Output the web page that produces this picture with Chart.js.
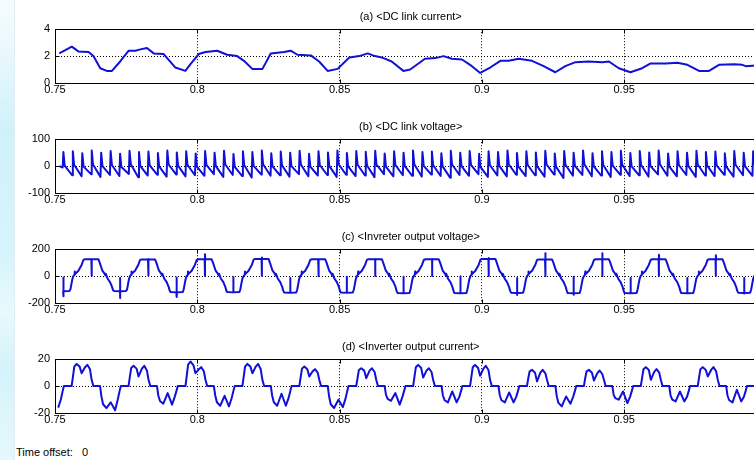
<!DOCTYPE html>
<html>
<head>
<meta charset="utf-8">
<script src="https://cdn.jsdelivr.net/npm/chart.js@4.4.1/dist/chart.umd.min.js"></script>
<style>
  html, body { margin: 0; padding: 0; width: 754px; height: 460px; overflow: hidden; background: #fff; }
  #strip {
    position: absolute; left: 0; top: 0; width: 14px; height: 460px;
    background: linear-gradient(to bottom, #f6fcfe 0%, #e8f8fc 12%, #cff2fa 28%, #d6f4fb 55%, #e9f9fd 68%, #d3f3fa 80%, #e6f8fc 100%);
    border-right: 1px solid #e2edf1;
  }
  .scope { position: absolute; left: 0; width: 780px; height: 110px; }
  .scope canvas { display: block; }
  #offset { position: absolute; left: 16px; top: 446px; font: 11px "Liberation Sans", Arial, sans-serif; color: #000; white-space: pre; }
</style>
</head>
<body>
<div id="strip"></div>
<div class="scope" style="top:0px"><canvas id="scope-a" width="780" height="110"></canvas></div>
<div class="scope" style="top:110px"><canvas id="scope-b" width="780" height="110"></canvas></div>
<div class="scope" style="top:220px"><canvas id="scope-c" width="780" height="110"></canvas></div>
<div class="scope" style="top:330px"><canvas id="scope-d" width="780" height="110"></canvas></div>
<div id="offset">Time offset:   0</div>

<script>
// ---- shared axis data ----
const xTicks = [0.75, 0.8, 0.85, 0.9, 0.95, 1.0];
const TRACE = '#1010d6';

// ---- (a) DC link current ----
const aTicks = [0, 2, 4];
const aTime = [0.7515,0.7559,0.7582,0.7618,0.7635,0.7659,0.7682,0.7700,0.7729,0.7759,
  0.7782,0.7800,0.7823,0.7847,0.7882,0.7923,0.7958,0.7976,0.8005,0.8029,
  0.8070,0.8105,0.8140,0.8164,0.8193,0.8229,0.8258,0.8305,0.8328,0.8352,
  0.8399,0.8428,0.8458,0.8493,0.8534,0.8569,0.8599,
  0.8624,0.8648,0.8683,0.8724,0.8748,0.8800,0.8836,0.8865,0.8894,0.8930,
  0.8965,0.8994,0.9029,0.9065,0.9094,0.9129,0.9176,0.9217,0.9258,0.9293,
  0.9329,0.9376,0.9423,0.9446,0.9481,0.9522,0.9563,0.9593,0.9646,0.9687,
  0.9722,0.9763,0.9798,0.9833,0.9886,0.9915,0.9927,0.9962];
const aValue = [2.2,2.7,2.35,2.3,2.0,1.1,0.9,0.9,1.6,2.4,
  2.4,2.5,2.6,2.2,2.15,1.15,0.9,1.4,2.15,2.3,
  2.4,2.1,2.0,1.65,1.05,1.05,2.2,2.3,2.4,2.1,
  2.05,1.6,0.9,1.05,1.9,2.0,2.2,
  2.0,1.9,1.6,0.9,1.0,1.8,1.85,2.0,1.8,1.75,
  1.25,0.75,1.15,1.65,1.65,1.8,1.65,1.25,0.8,1.25,
  1.55,1.6,1.55,1.6,1.1,0.8,1.1,1.45,1.45,1.5,
  1.35,0.9,0.9,1.35,1.4,1.35,1.25,1.3];

// ---- (b) DC link voltage: one spike per ripple cycle ----
const bTicks = [-100, 0, 100];
const bFirstSpike = 0.7528;
const bPeriod = 0.00332;
const bPeak = [52,55,48,58,50,56,46,57,52,54,49,58,51,55,47,
  56,50,57,45,55,52,58,48,54,50,57,46,55,51,58,
  49,56,53,57,47,55,50,58,52,54,48,57,50,56,46,
  55,52,58,49,55,51,57,47,56,50,58,48,55,52,57,
  49,56,51,58,47,55,50,57,52,54,48,56,50,55];
const bTrough = [-5,-34,-38,-30,-40,-33,-37,-29,-41,-35,-32,-39,-31,-38,-34,
  -36,-30,-40,-33,-37,-42,-31,-36,-34,-39,-30,-38,-35,-33,-40,
  -32,-37,-35,-41,-30,-38,-34,-36,-39,-31,-37,-43,-33,-36,-30,
  -40,-35,-38,-32,-37,-34,-39,-31,-44,-36,-33,-38,-35,-40,-32,
  -37,-34,-39,-31,-36,-38,-33,-40,-35,-37,-32,-39,-34,-36];
const bKnee = [2,5,-2,6,0,4,-3,7,1,3,-1,6,2,4,-2,
  5,0,6,-3,4,1,7,-1,3,0,6,-2,4,1,7,
  -1,5,2,6,-2,4,0,7,1,3,-1,6,0,5,-3,
  4,1,7,-1,4,0,6,-2,5,1,7,-1,4,2,6,
  -1,5,0,7,-2,4,1,6,2,3,-1,5,0,4];

// ---- (c) inverter output voltage: per-cycle rows at fixed phase offsets ----
const cTicks = [-200, 0, 200];
const cCenter = [0.7430,0.7629,0.7828,0.8027,0.8227,0.8426,0.8625,0.8825,0.9024,0.9223,0.9423,0.9622,0.9822,1.0021];
const cPhase = [-0.00644,-0.00609,-0.00597,-0.00586,-0.00468,-0.00351,-0.00293,-0.00234,-0.00012,0,0,0,0.00012,
  0.00234,0.00281,0.00375,0.00445,0.00480,0.00492,
  0.00562,0.00644,0.00714,0.00750,0.00785,0.00984,0.00995,0.00995,0.00995,0.01007,
  0.01206,0.01241,0.01276,0.01312];
const cRows = [
  [0,10,35,15,40,85,120,125,125,125,0,125,125,125,100,40,20,5,18,-20,-45,-80,-105,-111,-113,-113,-10,-150,-113,-111,-100,-60,-20],
  [0,10,35,15,40,85,120,126,126,126,0,126,126,126,100,40,20,5,18,-20,-45,-80,-105,-110,-112,-112,-15,-163,-112,-110,-100,-60,-20],
  [0,10,35,15,40,85,120,124,124,124,5,128,124,124,100,40,20,5,18,-20,-45,-80,-108,-119,-121,-121,-10,-155,-121,-119,-100,-60,-20],
  [0,10,35,15,40,85,120,125,125,125,0,163,125,125,100,40,20,5,18,-20,-45,-80,-108,-119,-121,-121,-8,-121,-121,-119,-100,-60,-20],
  [0,10,35,15,40,85,122,128,128,128,2,138,128,128,100,40,20,5,18,-20,-45,-80,-108,-122,-124,-124,-15,-124,-124,-122,-100,-60,-20],
  [0,10,35,15,40,85,120,125,125,125,0,125,125,125,100,40,20,5,18,-20,-45,-80,-108,-122,-124,-124,-5,-124,-124,-122,-100,-60,-20],
  [0,10,35,15,40,85,120,126,126,126,0,126,126,126,100,40,20,5,18,-20,-45,-80,-108,-125,-127,-127,-5,-127,-127,-125,-100,-60,-20],
  [0,10,35,15,40,85,120,125,125,125,0,128,125,125,100,40,20,5,18,-20,-45,-80,-108,-126,-128,-128,-2,-128,-128,-126,-100,-60,-20],
  [0,10,35,15,40,85,122,128,128,128,0,135,128,128,100,40,20,5,18,-20,-45,-80,-108,-123,-125,-125,-15,-140,-125,-123,-100,-60,-20],
  [0,10,35,15,40,85,120,124,124,124,0,170,124,124,100,40,20,5,18,-20,-45,-80,-108,-126,-128,-128,-5,-138,-128,-126,-100,-60,-20],
  [0,10,35,15,40,85,120,125,125,125,0,170,125,125,100,40,20,5,18,-20,-45,-80,-108,-126,-128,-128,-15,-128,-128,-126,-100,-60,-20],
  [0,10,35,15,40,85,120,125,125,125,0,158,125,125,100,40,20,5,18,-20,-45,-80,-108,-126,-128,-128,-15,-128,-128,-126,-100,-60,-20],
  [0,10,35,15,40,85,120,125,125,125,0,155,125,125,100,40,20,5,18,-20,-45,-80,-108,-123,-125,-125,-15,-130,-125,-123,-100,-60,-20],
  [0,10,35,15,40,85,120,125,125,125,0,125,125,125,100,40,20,5,18,-20,-45,-80,-108,-123,-125,-125,-10,-125,-125,-123,-100,-60,-20]
];

// ---- (d) inverter output current ----
const dTicks = [-20, 0, 20];
const dCenter = [0.7396,0.7596,0.7796,0.7996,0.8196,0.8396,0.8596,0.8796,0.8996,0.9196,0.9396,0.9596,0.9796,0.9996];
const dPhase = [-0.00646,-0.00376,-0.00329,-0.00282,-0.00200,-0.00094,-0.00024,0.00094,0.00176,0.00270,
  0.00329,0.00388,0.00623,0.00670,0.00729,0.00846,0.00999,0.01152,0.01246,0.01316];
const dRows = [
  [0,0,7,14,16,14,9,14,16,12,4.5,0,0,-7,-13,-16,-12,-16,-10,-3],
  [0,0,7,14.5,16.5,14.5,9.6,14,15.8,12.5,4.5,0,0,-7.5,-13.5,-16.3,-12.1,-18,-10,-3],
  [0,0,7,13.5,15.1,13,7.2,13,15.1,11.5,4.5,0,0,-7,-11,-13.1,-5.2,-13.8,-8,-3],
  [0,0,8,16,18.3,15.5,9.6,12.5,14.1,11,4.5,0,0,-7,-12,-14.6,-7.2,-15.1,-9,-3],
  [0,0,7,14.5,16.5,14.5,9.6,14.5,16.5,12.5,4.5,0,0,-7,-12,-14.6,-5.7,-14.6,-9,-3],
  [0,0,6.5,13,14.6,12.5,7.2,11,12.6,10,4.5,0,0,-7.5,-13.5,-16.3,-10.1,-15.6,-9.5,-3],
  [0,0,6,12,13.3,11.5,5.9,11.5,13.3,10.5,4.5,0,0,-6.5,-9.5,-10.9,-5.2,-13.8,-8,-3],
  [0,0,7,14,15.8,13.5,6.4,11.5,13.3,10.5,4.5,0,0,-7,-10.5,-12.1,-4,-12.1,-8,-3],
  [0,0,7,14,15.8,13.5,7.7,13,15.1,12,4.5,0,0,-7,-10.5,-12.1,-4.7,-12.1,-8,-3],
  [0,0,6,11,12.1,10,3.5,10,12.1,9.5,4.5,0,0,-7.5,-12.5,-15.1,-7.7,-13.1,-8,-3],
  [0,0,6,11,12.1,10,4.2,9.5,11.6,9,4.5,0,0,-6.5,-9,-10.1,-4,-12.6,-8,-3],
  [0,0,6.5,12.5,14.1,12,4.7,10.5,12.6,10,4.5,0,0,-7,-10,-11.4,-4,-11.4,-8,-3],
  [0,0,6.5,12.5,14.1,12,7.2,12,14.1,11,4.5,0,0,-7,-10.5,-12.1,-2.7,-11.4,-8,-3],
  [0,0,6.5,12.5,14,12,7,12,14,11,4.5,0,0,-7,-10.5,-12,-4,-12,-8,-3]
];

const T_START = 0.7510;
const T_END = 0.9962;

// ---- point builders ----
function pairPoints(times, values) {
  return times.map((t, i) => ({ x: t, y: values[i] }));
}

function spikePoints() {
  const pts = [{ x: 0.7515, y: 0 }];
  bPeak.forEach((p, i) => {
    const t = bFirstSpike + i * bPeriod;
    pts.push({ x: t - 0.0001, y: bTrough[i] }, { x: t + 0.00015, y: p }, { x: t + 0.0006, y: bKnee[i] });
  });
  return pts.filter(p => p.x <= T_END);
}

function cyclePoints(centers, phase, rows) {
  const pts = [];
  centers.forEach((c, i) => {
    rows[i].forEach((v, j) => {
      const t = c + phase[j];
      if (t >= T_START && t <= T_END) pts.push({ x: t, y: v });
    });
  });
  return pts;
}

// Matlab scope frame: box plus short inward tick marks
const scopeFrame = {
  id: 'scopeFrame',
  afterDatasetsDraw(chart) {
    const { ctx, chartArea: a, scales: { x, y } } = chart;
    const L = Math.round(a.left) + 0.5, T = Math.round(a.top) + 0.5;
    const R = Math.round(a.right) + 0.5, B = Math.round(a.bottom) + 0.5;
    ctx.save();
    ctx.strokeStyle = '#000';
    ctx.lineWidth = 1;
    ctx.setLineDash([]);
    ctx.strokeRect(L, T, R - L, B - T);
    ctx.beginPath();
    x.ticks.forEach(t => {
      const px = Math.round(x.getPixelForValue(t.value)) + 0.5;
      ctx.moveTo(px, T); ctx.lineTo(px, T + 4);
      ctx.moveTo(px, B); ctx.lineTo(px, B - 4);
    });
    y.ticks.forEach(t => {
      const py = Math.round(y.getPixelForValue(t.value)) + 0.5;
      ctx.moveTo(L, py); ctx.lineTo(L + 4, py);
    });
    ctx.stroke();
    ctx.restore();
  }
};

Chart.defaults.font.family = '"Liberation Sans", Arial, sans-serif';
Chart.defaults.font.size = 11;
Chart.defaults.color = '#000';

function innerGrid(lo, hi) {
  return c => (c.tick && c.tick.value > lo + 1e-9 && c.tick.value < hi - 1e-9) ? '#000' : 'rgba(0,0,0,0)';
}

function renderScope(id, title, points, yTicks) {
  const canvas = document.getElementById(id);
  if (!canvas) return;
  const ctx = canvas.getContext('2d');
  const yMin = yTicks[0], yMax = yTicks[yTicks.length - 1];

  return new Chart(ctx, {
    type: 'line',
    data: {
      datasets: [{
        data: points,
        borderColor: TRACE,
        borderWidth: 2,
        pointRadius: 0,
        tension: 0,
        fill: false,
        borderJoinStyle: 'round'
      }]
    },
    options: {
      responsive: false,
      animation: false,
      devicePixelRatio: 1,
      layout: { padding: { left: 0, right: 13.5, top: 0, bottom: 0 } },
      plugins: {
        legend: { display: false },
        tooltip: { enabled: false },
        title: {
          display: true,
          text: title,
          color: '#000',
          fullSize: false,
          font: { size: 11, weight: 'normal' },
          padding: { top: 10, bottom: 6 }
        }
      },
      scales: {
        x: {
          type: 'linear',
          min: xTicks[0],
          max: xTicks[xTicks.length - 1],
          afterBuildTicks: s => { s.ticks = xTicks.map(v => ({ value: v })); },
          afterFit: s => { s.height = 27; },
          ticks: {
            autoSkip: false,
            maxRotation: 0,
            padding: 0,
            color: '#000',
            callback: v => String(+v.toFixed(2))
          },
          grid: { drawTicks: false, color: innerGrid(xTicks[0], xTicks[xTicks.length - 1]) },
          border: { display: false, dash: [1, 2] }
        },
        y: {
          type: 'linear',
          min: yMin,
          max: yMax,
          afterBuildTicks: s => { s.ticks = yTicks.map(v => ({ value: v })); },
          afterFit: s => { s.width = 55; },
          ticks: { padding: 5, color: '#000' },
          grid: { drawTicks: false, color: innerGrid(yMin, yMax) },
          border: { display: false, dash: [1, 2] }
        }
      }
    },
    plugins: [scopeFrame]
  });
}

renderScope('scope-a', '(a) <DC link current>', pairPoints(aTime, aValue), aTicks);
renderScope('scope-b', '(b) <DC link voltage>', spikePoints(), bTicks);
renderScope('scope-c', '(c) <Invreter output voltage>', cyclePoints(cCenter, cPhase, cRows), cTicks);
renderScope('scope-d', '(d) <Inverter output current>', cyclePoints(dCenter, dPhase, dRows), dTicks);
</script>
</body>
</html>
